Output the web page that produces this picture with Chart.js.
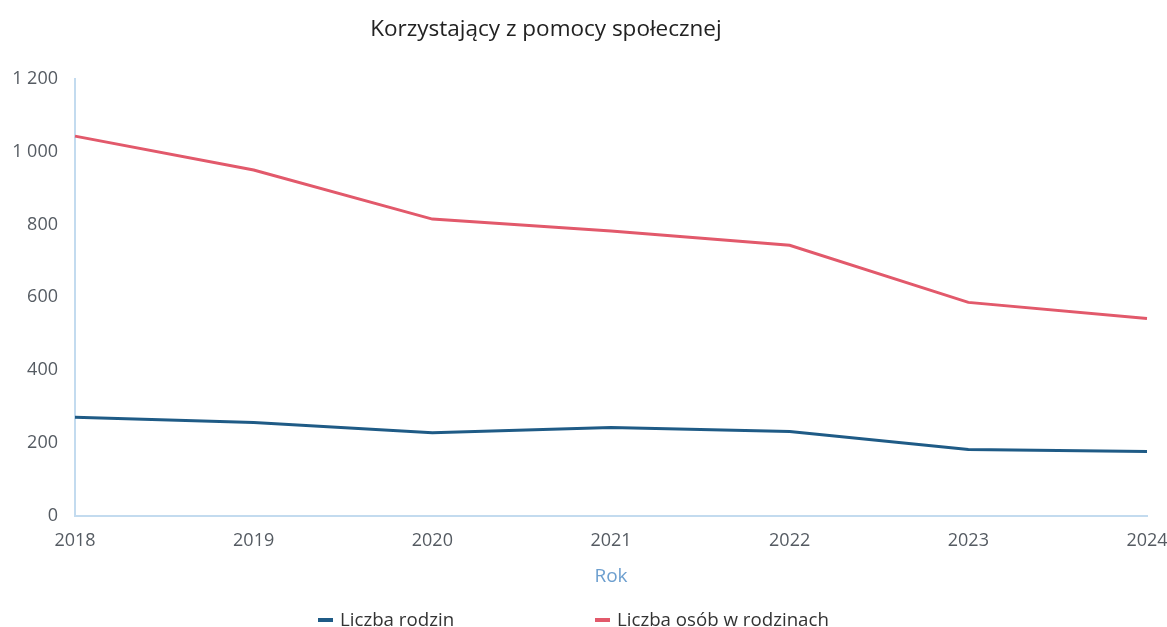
<!DOCTYPE html>
<html>
<head>
<meta charset="utf-8">
<script src="https://cdn.jsdelivr.net/npm/chart.js@4/dist/chart.umd.min.js"></script>
<style>
  html, body { margin: 0; padding: 0; background: #fff; }
  #wrap { position: relative; width: 1167px; height: 627px; }
  #title { position: absolute; left: 0; width: 1092px; top: 12px; text-align: center;
           font-family: "Open Sans", sans-serif; font-size: 22.5px; color: #222; }
  #legend { position: absolute; top: 607px; left: 0; width: 1167px; height: 24px;
            font-family: "Open Sans", sans-serif; font-size: 18.7px; color: #333; }
  .item { position: absolute; top: 0; white-space: nowrap; line-height: 24px; }
  .mark { display: inline-block; width: 15px; height: 4px; vertical-align: middle;
          margin-right: 7px; position: relative; top: -1px; }
</style>
</head>
<body>
<div id="wrap">
  <div id="title">Korzystający z pomocy społecznej</div>
  <canvas id="chart" width="1167" height="627"></canvas>
  <div id="legend"></div>
</div>
<script>
const years = ["2018", "2019", "2020", "2021", "2022", "2023", "2024"];
const rodziny = [270, 256, 228, 242, 231, 182, 176];
const osoby = [1043, 950, 815, 782, 743, 586, 542];

const axisColor = "#c3dbef";
const tickColor = "#555b62";
const legendX = [318, 595];

let ctx = document.getElementById("chart");
let chart = new Chart(ctx, {
    type: "line",
    data: {
        labels: years,
        datasets: [{
                label: "Liczba rodzin",
                data: rodziny,
                borderColor: "#1f5b86",
                backgroundColor: "#1f5b86",
                borderWidth: 3,
                pointRadius: 0,
                tension: 0
            }, {
                label: "Liczba osób w rodzinach",
                data: osoby,
                borderColor: "#e2596b",
                backgroundColor: "#e2596b",
                borderWidth: 3,
                pointRadius: 0,
                tension: 0
            }
        ]
    },
    options: {
        responsive: false,
        animation: false,
        layout: { padding: { top: 79, right: 0, left: 0, bottom: 39 } },
        plugins: {
            legend: { display: false },
            tooltip: { enabled: false }
        },
        scales: {
            x: {
                grid: { display: false, drawTicks: false },
                border: { color: axisColor, width: 2 },
                ticks: { font: { family: "Open Sans", size: 18 }, color: tickColor, padding: 14, maxRotation: 0 },
                title: {
                    display: true,
                    text: "Rok",
                    font: { family: "Open Sans", size: 19 },
                    color: "#6d9fcf",
                    padding: { top: 0, bottom: 0 }
                },
                afterFit: function (axis) { axis.paddingRight = 20; }
            },
            y: {
                min: 0,
                max: 1200,
                grid: { display: false, drawTicks: false },
                border: { color: axisColor, width: 2 },
                ticks: {
                    stepSize: 200,
                    font: { family: "Open Sans", size: 18 },
                    color: tickColor,
                    padding: 17,
                    callback: function (v) {
                        return String(v).replace(/\B(?=(\d{3})+(?!\d))/g, " ");
                    }
                },
                afterFit: function (axis) { axis.width = 75; }
            }
        }
    }
});

// legenda w HTML
let leg = document.getElementById("legend");
chart.data.datasets.forEach(function (ds, i) {
    let tag = '<div class="item" style="left:' + legendX[i] + 'px">' +
                  '<span class="mark" style="background:' + ds.borderColor + '"></span>' + ds.label +
              '</div>';
    leg.insertAdjacentHTML("beforeend", tag);
});
</script>
</body>
</html>
